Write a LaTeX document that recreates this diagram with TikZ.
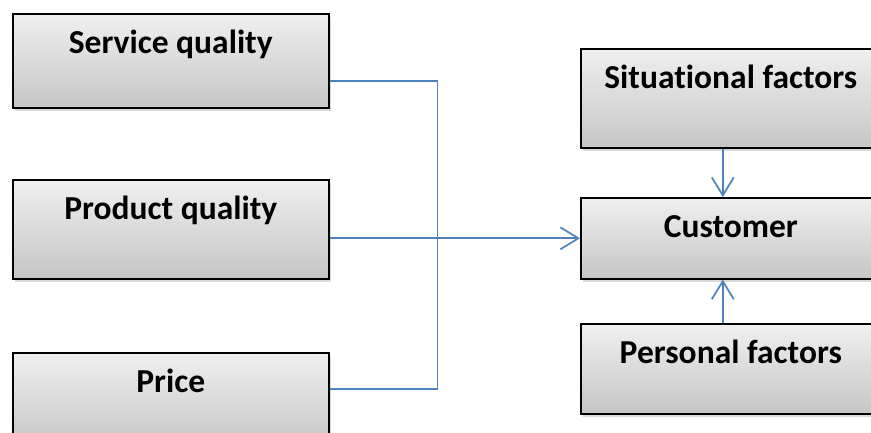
\documentclass[tikz,border=0pt]{standalone}
\usepackage{fontspec}
\setmainfont{Carlito}[Ligatures=NoCommon]
\usetikzlibrary{arrows.meta,calc,positioning,shadows}
\definecolor{linkblue}{RGB}{79,129,189}

\begin{document}
\begin{tikzpicture}[x=1pt,y=-1pt,
  box/.style={draw,line width=1.6pt,anchor=north west,inner sep=0pt,
    top color=gray!12,bottom color=gray!45,
    drop shadow={shadow xshift=2pt,shadow yshift=-3pt,opacity=.3},
    font=\fontsize{33.5}{38}\selectfont\bfseries,text height=40pt},
  conn/.style={line width=1.7pt,linkblue},
  tip/.style={-{Straight Barb[length=18pt,width=22pt]}}]
\clip (0,0) rectangle (871,432);
% left column
\node[box,minimum width=316pt,text depth=54pt] (serv) at (12,13) {Service quality};
\node[box,minimum width=316pt,text depth=59pt] (prod) at (12,179) {Product quality};
\node[box,minimum width=316pt,text depth=54pt] (price) at (12,352) {Price};
% right column
\node[box,minimum width=300pt,text depth=59pt] (situ) at (580,48) {Situational factors};
\node[box,minimum width=300pt,text depth=41pt] (cust) at (580,197) {Customer};
\node[box,minimum width=300pt,text depth=50pt] (pers) at (580,323) {Personal factors};
% connectors
\coordinate (sq) at ($(serv.east)+(0,20)$);
\coordinate (pr) at ($(price.east)+(0,-11)$);
\draw[conn] (sq) -- ++(108,0) |- (pr);
\draw[conn,tip] (prod.east |- cust.west) -- (cust.west);
\draw[conn,tip] ([xshift=-8pt]situ.south) -- ([xshift=-8pt]cust.north);
\draw[conn,tip] ([xshift=-8pt]pers.north) -- ([xshift=-8pt]cust.south);
\end{tikzpicture}
\end{document}
